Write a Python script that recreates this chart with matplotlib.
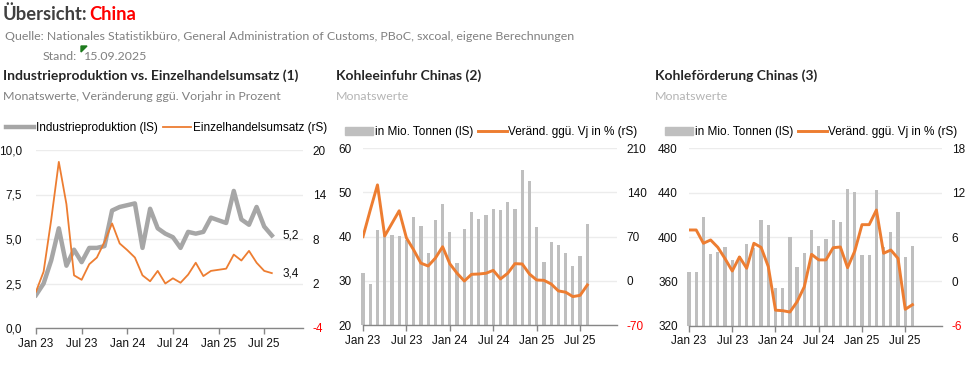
import matplotlib
matplotlib.use("Agg")
import matplotlib.pyplot as plt
from matplotlib.lines import Line2D
from matplotlib.patches import Patch, Polygon

# --- data (monthly, Jan 23 .. Aug 25) ---
month_idx = list(range(32))
xtick_pos = [0, 6, 12, 18, 24, 30]
xtick_labels = ["Jan 23", "Jul 23", "Jan 24", "Jul 24", "Jan 25", "Jul 25"]

# (1) industrial production / retail sales, yoy in %
ind_prod = [1.85, 2.5, 3.8, 5.6, 3.5, 4.4, 3.7, 4.5, 4.5, 4.6, 6.6, 6.8,
            6.9, 7.0, 4.5, 6.7, 5.6, 5.3, 5.1, 4.5, 5.4, 5.3, 5.4, 6.2,
            6.05, 5.9, 7.7, 6.1, 5.8, 6.8, 5.7, 5.2]
retail = [0.9, 3.6, 10.6, 18.4, 12.7, 3.1, 2.5, 4.6, 5.5, 7.6, 10.1, 7.4,
          6.5, 5.5, 3.1, 2.3, 3.7, 2.0, 2.7, 2.1, 3.2, 4.8, 3.0, 3.7,
          3.85, 4.0, 5.9, 5.1, 6.4, 4.8, 3.7, 3.4]
p1_left_ticks = [0, 2.5, 5, 7.5, 10]
p1_left_labels = ["0,0", "2,5", "5,0", "7,5", "10,0"]
p1_right_ticks = [-4, 2, 8, 14, 20]

# (2) coal imports, mn t and yoy %
imports = [31.7, 29.3, 41.4, 40.6, 40.3, 40.1, 39.3, 44.5, 42.3, 36.2, 43.7, 47.5,
           41.0, 34.0, 41.7, 45.5, 44.0, 44.8, 46.3, 46.0, 47.8, 46.3, 55.1, 52.5,
           42.1, 34.3, 38.9, 38.0, 36.2, 33.3, 35.7, 42.9]
imports_yoy = [70, 112, 152, 71, 91, 111, 68, 49, 28, 23.5, 36, 54,
               27, 12, -0.3, 10.3, 10.8, 12, 16.6, 3, 12, 27.2, 26.7, 10.8,
               1.3, 0.8, -5, -16, -18, -25, -23, -6.6]
p2_left_ticks = [20, 30, 40, 50, 60]
p2_right_ticks = [-70, 0, 70, 140, 210]

# (3) coal production, mn t and yoy %
production = [368.2, 368.2, 417.6, 384.4, 386.2, 390.6, 379, 383.2, 394.1, 390.5, 415, 411,
              353.7, 353.7, 399.7, 372.7, 385.3, 406, 391.6, 398.2, 415.6, 413.3, 443, 440.3,
              383.5, 383.5, 442.1, 391.3, 404.2, 422.6, 381.7, 391.6]
production_yoy = [6.95, 6.95, 5.15, 5.6, 4.6, 3.07, 1.4, 3.3, 1.77, 5.15, 4.6, 2.0,
                  -3.9, -3.97, -4.15, -2.75, -0.72, 3.66, 2.9, 2.9, 4.55, 4.65, 1.85, 4.1,
                  7.67, 7.67, 9.65, 3.8, 4.24, 3.1, -3.78, -3.16]
p3_left_ticks = [320, 360, 400, 440, 480]
p3_right_ticks = [-6, 0, 6, 12, 18]

# --- styling ---
W, H = 974, 366
GRAY_LINE = "#a6a6a6"
GRAY_BAR = "#bfbfbf"
ORANGE = "#ed7d31"
GRID = "#ececec"
AXIS = "#868686"
HEAD_FONT = "Lato"
TICK_FONT = "Liberation Sans"
FS = 8.5

plt.rcParams["font.family"] = [TICK_FONT, "DejaVu Sans"]

fig = plt.figure(figsize=(W / 100, H / 100), dpi=100)
fig.patch.set_facecolor("white")


def fx(x):
    return x / W


def fy(y):
    return 1 - y / H


def box(x0, y0, x1, y1):
    return [x0 / W, 1 - y1 / H, (x1 - x0) / W, (y1 - y0) / H]


def txt(x, y, s, **kw):
    kw.setdefault("family", HEAD_FONT)
    fig.text(fx(x), fy(y), s, va="center", ha="left", **kw)


# header texts
txt(3, 14, "Übersicht:", size=13.2, weight="bold", color="#404040")
txt(89, 14, "China", size=13.2, weight="bold", color="#ff0000")
txt(5, 37, "Quelle: Nationales Statistikbüro, General Administration of Customs, PBoC, sxcoal, eigene Berechnungen",
    size=8.95, color="#808080")
txt(43, 57, "Stand:", size=8.95, color="#808080")
txt(84, 57, "15.09.2025", size=8.95, color="#808080")
fig.add_artist(Polygon([[fx(81), fy(46)], [fx(87), fy(46)], [fx(81), fy(52)]],
                       closed=True, color="#1e7b1e", transform=fig.transFigure))

txt(3, 76, "Industrieproduktion vs. Einzelhandelsumsatz (1)", size=10.0, weight="bold", color="#262626")
txt(3, 97, "Monatswerte, Veränderung ggü. Vorjahr in Prozent", size=8.95, color="#808080")
txt(336, 76, "Kohleeinfuhr Chinas (2)", size=10.0, weight="bold", color="#262626")
txt(336, 97, "Monatswerte", size=8.95, color="#b4b4b4")
txt(655, 76, "Kohleförderung Chinas (3)", size=10.0, weight="bold", color="#262626")
txt(655, 97, "Monatswerte", size=8.95, color="#b4b4b4")


def style_axes(ax, axr, lticks, llabels, rticks, pad_l, pad_r):
    ax.set_xlim(0, 35.1)
    ax.set_ylim(lticks[0], lticks[-1])
    axr.set_ylim(rticks[0], rticks[-1])
    ax.set_yticks(lticks, llabels)
    axr.set_yticks(rticks, [str(t) for t in rticks])
    ax.set_xticks(xtick_pos, xtick_labels)
    for a in (ax, axr):
        for s in ("top", "left", "right", "bottom"):
            a.spines[s].set_visible(False)
    ax.spines["bottom"].set_visible(True)
    ax.spines["bottom"].set_color(AXIS)
    ax.spines["bottom"].set_linewidth(1.0)
    ax.spines["bottom"].set_zorder(5)
    ax.tick_params(axis="x", direction="out", length=4, width=1, color=AXIS,
                   labelsize=FS, pad=3, labelcolor="#111111")
    ax.tick_params(axis="y", length=0, labelsize=FS, pad=pad_l, labelcolor="#111111")
    axr.tick_params(axis="y", length=0, labelsize=FS, pad=pad_r, labelcolor="#111111")
    axr.get_yticklabels()[0].set_color("#ff0000")
    ax.grid(axis="y", color=GRID, linewidth=1.0)
    ax.set_axisbelow(True)
    ax.set_facecolor("none")


def legend(x, y, handles, labels):
    fig.legend(handles, labels, loc="center left", bbox_to_anchor=(fx(x), fy(y)),
               ncol=2, frameon=False, fontsize=FS, handlelength=2.4,
               handletextpad=0.15, columnspacing=0.4, borderpad=0, borderaxespad=0)


# panel 1
ax1 = fig.add_axes(box(36, 150, 303, 328))
ax1r = ax1.twinx()
ax1.plot(month_idx, ind_prod, color=GRAY_LINE, lw=3.2, zorder=3)
ax1r.plot(month_idx, retail, color=ORANGE, lw=1.3, zorder=4)
style_axes(ax1, ax1r, p1_left_ticks, p1_left_labels, p1_right_ticks, 10, 7)
ax1.text(month_idx[-1] + 1.4, ind_prod[-1], "5,2", va="center", ha="left", fontsize=FS, color="#111111")
ax1r.text(month_idx[-1] + 1.4, retail[-1], "3,4", va="center", ha="left", fontsize=FS, color="#111111")
legend(6, 128, [Line2D([], [], color=GRAY_LINE, lw=3.2), Line2D([], [], color=ORANGE, lw=1.3)],
       ["Industrieproduktion (lS)", "Einzelhandelsumsatz (rS)"])

# panel 2
ax2 = fig.add_axes(box(363, 148.3, 617, 325))
ax2r = ax2.twinx()
base2 = p2_left_ticks[0]
ax2.bar(month_idx, [v - base2 for v in imports], bottom=base2, width=0.45,
        color=GRAY_BAR, clip_on=False, zorder=2)
ax2r.plot(month_idx, imports_yoy, color=ORANGE, lw=2.1, zorder=4)
style_axes(ax2, ax2r, p2_left_ticks, [str(t) for t in p2_left_ticks], p2_right_ticks, 8, 7)
legend(345, 132, [Patch(color=GRAY_BAR), Line2D([], [], color=ORANGE, lw=2.1)],
       ["in Mio. Tonnen (lS)", "Veränd. ggü. Vj in % (rS)"])

# panel 3
ax3 = fig.add_axes(box(689, 148.3, 942, 325.7))
ax3r = ax3.twinx()
base3 = p3_left_ticks[0]
ax3.bar(month_idx, [v - base3 for v in production], bottom=base3, width=0.45,
        color=GRAY_BAR, clip_on=False, zorder=2)
ax3r.plot(month_idx, production_yoy, color=ORANGE, lw=2.1, zorder=4)
style_axes(ax3, ax3r, p3_left_ticks, [str(t) for t in p3_left_ticks], p3_right_ticks, 8, 7)
legend(665, 132, [Patch(color=GRAY_BAR), Line2D([], [], color=ORANGE, lw=2.1)],
       ["in Mio. Tonnen (lS)", "Veränd. ggü. Vj in % (rS)"])

fig.savefig("out.png", dpi=100, facecolor="white")
